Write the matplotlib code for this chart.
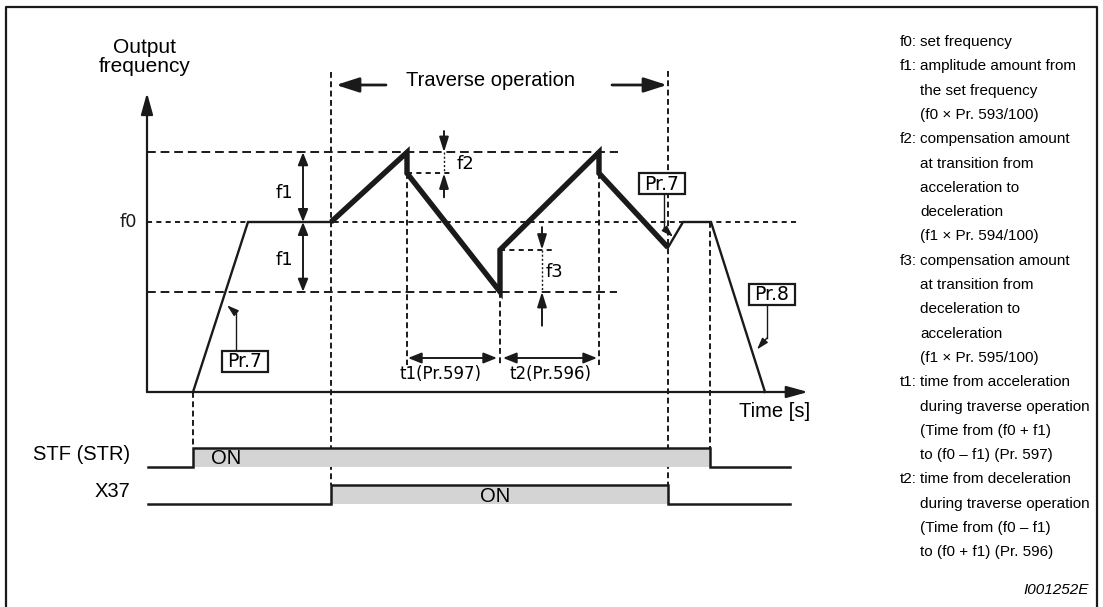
import matplotlib
matplotlib.use("Agg")
import matplotlib.pyplot as plt
from matplotlib.patches import Rectangle

K = "#1a1a1a"
GRAY = "#d4d4d4"

# output frequency in % of f0, time in 0.1 s steps (schematic)
f0, f_hi, f_lo = 100, 141, 59        # f0, f0+f1, f0-f1
f2_lvl, f3_lvl = 128.7, 83.6         # after f2 / f3 compensation

ramp_t = [4.6, 10.1, 18.4]
ramp_f = [0, 100, 100]
trav_t = [18.4, 26.0, 26.0, 35.3, 35.3, 45.2, 45.2, 52.1]
trav_f = [100, 141, 128.7, 59, 83.6, 141, 128.7, 85]
stop_t = [52.1, 53.6, 56.4, 61.8]
stop_f = [85, 100, 100, 0]

# timing chart (STF high 1 / low 0, X37 high -1 / low -2)
stf_t = [0.1, 4.6, 4.6, 56.3, 56.3, 64.3]
stf_s = [0, 0, 1, 1, 0, 0]
x37_t = [0.1, 18.4, 18.4, 52.1, 52.1, 64.3]
x37_s = [-2, -2, -1, -1, -2, -2]

notes = [
    ("f0:", ["set frequency"]),
    ("f1:", ["amplitude amount from", "the set frequency", "(f0 \u00d7 Pr. 593/100)"]),
    ("f2:", ["compensation amount", "at transition from", "acceleration to", "deceleration",
             "(f1 \u00d7 Pr. 594/100)"]),
    ("f3:", ["compensation amount", "at transition from", "deceleration to", "acceleration",
             "(f1 \u00d7 Pr. 595/100)"]),
    ("t1:", ["time from acceleration", "during traverse operation", "(Time from (f0 + f1)",
             "to (f0 \u2013 f1) (Pr. 597)"]),
    ("t2:", ["time from deceleration", "during traverse operation", "(Time from (f0 \u2013 f1)",
             "to (f0 + f1) (Pr. 596)"]),
]

SANS = "Liberation Sans"
LITE = "DejaVu Sans"

fig = plt.figure(figsize=(11.03, 6.07), dpi=100)
cv = fig.add_axes([0, 0, 1, 1]); cv.set_xlim(0, 1103); cv.set_ylim(607, 0); cv.axis("off")
ax = fig.add_axes([0, 0, 1, 1]); ax.set_xlim(-14.7, 95.6); ax.set_ylim(-126.47, 230.59); ax.axis("off")
sg = fig.add_axes([0, 0, 1, 1], sharex=ax); sg.set_ylim(-7.57, 25.24); sg.axis("off")


def arrow(a, p0, p1, hl=1.3, hw=0.36, lw=1.6, ms=10):
    a.annotate("", xy=p1, xytext=p0,
               arrowprops=dict(arrowstyle=f"-|>,head_length={hl},head_width={hw}",
                               mutation_scale=ms, lw=lw, color=K, shrinkA=0, shrinkB=0))


def darrow(a, p0, p1, hl=0.75, hw=0.3, lw=1.4):
    a.annotate("", xy=p1, xytext=p0,
               arrowprops=dict(arrowstyle=f"<|-|>,head_length={hl},head_width={hw}",
                               mutation_scale=10, lw=lw, color=K, shrinkA=0, shrinkB=0))


def prbox(t, f, label):
    # box about 46 x 21 px around the label
    ax.add_patch(Rectangle((t - 2.3, f - 6.2), 4.6, 12.4, fc="white", ec=K, lw=1.6, zorder=4))
    ax.text(t, f - 0.3, label, ha="center", va="center", fontsize=13.5, family=LITE,
            zorder=5)


# frame (open at the bottom)
cv.plot([6, 6, 1097, 1097], [620, 6.5, 6.5, 620], color=K, lw=1.6)

# axes
arrow(ax, (0, 0), (0, 176))
arrow(ax, (0, 0), (66.1, 0))
ax.text(-0.2, 197, "Output\nfrequency", ha="center", va="center", fontsize=15,
        family=SANS, linespacing=1.0)
ax.text(62.8, -11.5, "Time [s]", ha="center", va="center", fontsize=14.5, family=SANS)
ax.text(-1.0, f0, "f0", ha="right", va="center", fontsize=13, family=LITE, color=K)

# reference levels
dash_long = (4.5, 2.5)
ax.plot([0, 47.1], [f_hi, f_hi], color=K, lw=1.4, dashes=dash_long)
ax.plot([0, 47.0], [f_lo, f_lo], color=K, lw=1.4, dashes=dash_long)
ax.plot([0, 65.1], [f0, f0], color=K, lw=1.4, dashes=(2.6, 2.2))
ax.plot([26.0, 30.5], [f2_lvl, f2_lvl], color=K, lw=1.4, dashes=(2.6, 2.2))
ax.plot([35.3, 40.6], [f3_lvl, f3_lvl], color=K, lw=1.4, dashes=(2.6, 2.2))

# vertical guides
vd = (3, 1.8)
ax.plot([26.0, 26.0], [f2_lvl, 16], color=K, lw=1.4, dashes=vd)
ax.plot([35.3, 35.3], [f_lo, 16], color=K, lw=1.4, dashes=vd)
ax.plot([45.2, 45.2], [f2_lvl, 16], color=K, lw=1.4, dashes=vd)
ax.plot([29.7, 29.7], [f_hi, f2_lvl], color=K, lw=1.0, dashes=(1.5, 1.5))
ax.plot([39.5, 39.5], [f3_lvl, f_lo], color=K, lw=1.0, dashes=(1.5, 1.5))
for t, y0, s1 in [(4.6, 0, 1), (18.4, 188, -1), (52.1, 189, -1), (56.3, 100, 1)]:
    y1 = ax.transData.inverted().transform(sg.transData.transform((t, s1)))[1]
    ax.plot([t, t], [y0, y1], color=K, lw=1.4, dashes=vd)

# waveform
ax.plot(ramp_t, ramp_f, color=K, lw=1.7, solid_joinstyle="miter")
ax.plot(stop_t, stop_f, color=K, lw=1.7, solid_joinstyle="miter")
ax.plot(trav_t, trav_f, color=K, lw=3.9, solid_joinstyle="miter", solid_capstyle="butt")

# f1 / f2 / f3 markers
darrow(ax, (15.6, f0), (15.6, f_hi))
darrow(ax, (15.6, f0), (15.6, f_lo))
ax.text(14.6, 117, "f1", ha="right", va="center", fontsize=13, family=LITE)
ax.text(14.6, 77.6, "f1", ha="right", va="center", fontsize=13, family=LITE)
arrow(ax, (29.7, 153.5), (29.7, f_hi), hl=0.9, hw=0.28, lw=1.4)
arrow(ax, (29.7, 114.5), (29.7, f2_lvl), hl=0.9, hw=0.28, lw=1.4)
ax.text(31.0, 134, "f2", ha="left", va="center", fontsize=13, family=LITE)
arrow(ax, (39.5, 97), (39.5, f3_lvl), hl=0.9, hw=0.28, lw=1.4)
arrow(ax, (39.5, 39), (39.5, f_lo), hl=0.9, hw=0.28, lw=1.4)
ax.text(39.9, 70.6, "f3", ha="left", va="center", fontsize=13, family=LITE)

# t1 / t2
darrow(ax, (26.1, 20), (35.0, 20), hl=0.8, hw=0.32)
darrow(ax, (35.6, 20), (45.0, 20), hl=0.8, hw=0.32)
ax.text(29.3, 10.6, "t1(Pr.597)", ha="center", va="center", fontsize=12, family=LITE)
ax.text(40.3, 10.6, "t2(Pr.596)", ha="center", va="center", fontsize=12, family=LITE)

# traverse operation
ax.text(34.3, 183.5, "Traverse operation", ha="center", va="center", fontsize=14.5, family=SANS)
arrow(ax, (23.9, 180.6), (18.9, 180.6), hl=1.4, hw=0.45, lw=2.0)
arrow(ax, (46.5, 180.6), (52.0, 180.6), hl=1.4, hw=0.45, lw=2.0)

# parameter boxes and leaders
prbox(9.8, 18.1, "Pr.7")
ax.plot([8.9, 8.9], [24.2, 46.5], color=K, lw=1.0)
arrow(ax, (8.9, 46.5), (8.0, 51), hl=0.7, hw=0.22, lw=1.0)
prbox(51.5, 122.6, "Pr.7")
ax.plot([51.7, 51.7], [116.4, 96.5], color=K, lw=1.0)
arrow(ax, (51.7, 96.5), (52.6, 91.2), hl=0.7, hw=0.22, lw=1.0)
prbox(62.5, 57.6, "Pr.8")
ax.plot([62.0, 62.0], [51.4, 31.8], color=K, lw=1.0)
arrow(ax, (62.0, 31.8), (61.0, 25.0), hl=0.7, hw=0.22, lw=1.0)

# timing chart
sg.fill_between(stf_t, stf_s, 0, color=GRAY, lw=0)
sg.fill_between(x37_t, x37_s, -2, color=GRAY, lw=0)
sg.plot(stf_t, stf_s, color=K, lw=1.8, solid_joinstyle="miter")
sg.plot(x37_t, x37_s, color=K, lw=1.8, solid_joinstyle="miter")
sg.text(-1.7, 0.65, "STF (STR)", ha="right", va="center", fontsize=14.5, family=SANS)
sg.text(-1.7, -1.35, "X37", ha="right", va="center", fontsize=14.5, family=SANS)
sg.text(7.9, 0.45, "ON", ha="center", va="center", fontsize=14.5, family=SANS)
sg.text(34.8, -1.6, "ON", ha="center", va="center", fontsize=14.5, family=SANS)

# right-hand notes
row = 0
step = 24.3
for tag, lines in notes:
    cv.text(900, 42 + row * step, tag, ha="left", va="center", fontsize=11.0, family=SANS)
    for ln in lines:
        cv.text(920, 42 + row * step, ln, ha="left", va="center", fontsize=11.0, family=SANS)
        row += 1
cv.text(1089, 590, "I001252E", ha="right", va="center", fontsize=11, family=SANS, style="italic")

fig.savefig("out.png", dpi=100)
